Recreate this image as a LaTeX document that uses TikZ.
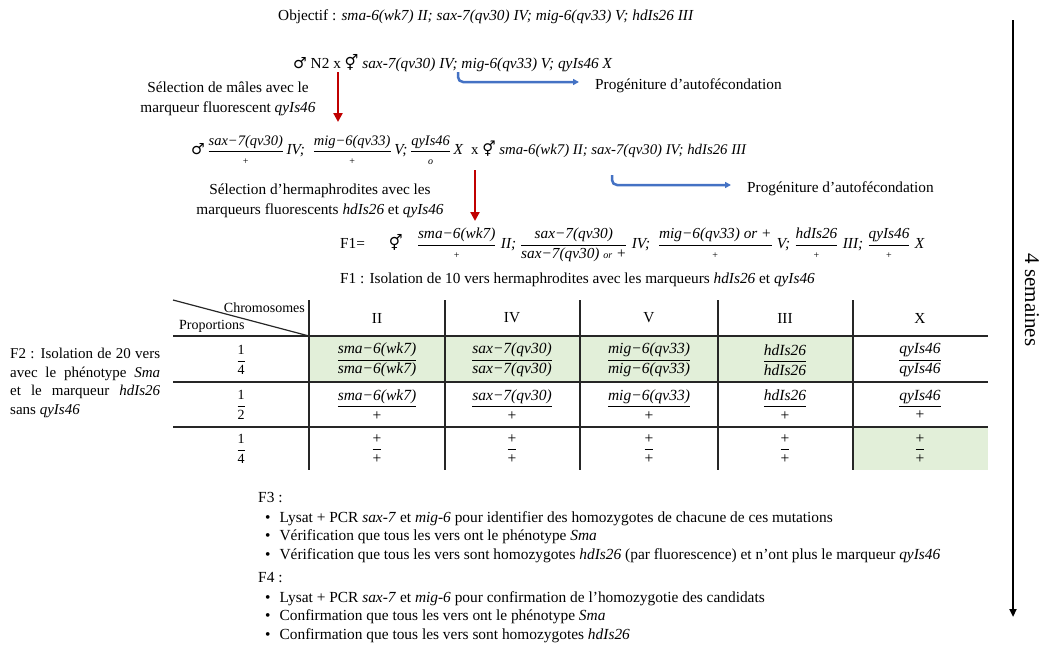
\documentclass[tikz,border=0pt]{standalone}
\usepackage{amsmath}
\usepackage{fontspec}
\setmainfont{Liberation Serif}
\newfontfamily\signes{DejaVu Sans}
\usetikzlibrary{arrows.meta,positioning}

\definecolor{rougefleche}{HTML}{C00000}
\definecolor{bleufleche}{HTML}{4472C4}
\definecolor{vertcase}{HTML}{E2EFD9}

% symboles male / hermaphrodite
\newcommand{\signemale}{{\signes\char"2642}}
\newcommand{\signeherm}{{\signes\char"26A5}}
% genotype ecrit en fraction
\newcommand{\geno}[2]{\ensuremath{\dfrac{\text{#1}}{\text{#2}}}}
\newcommand{\petit}{\fontsize{10}{11}\selectfont}
\newcommand{\moyen}{\fontsize{14.5}{16}\selectfont}
\newcommand{\grand}{\fontsize{15.3}{17}\selectfont}

\begin{document}
\begin{tikzpicture}[x=1pt, y=-1pt,
    every node/.style={font=\fontsize{15.3}{18.5}\selectfont, inner sep=2pt},
    selfleche/.style={draw=rougefleche, line width=2.5pt, -{Triangle[length=9pt,width=9pt]}},
    autofleche/.style={draw=bleufleche, line width=2.5pt, rounded corners=5pt, -{Triangle[length=6pt,width=6pt]}},
    cellule/.style={font=\fontsize{15.5}{17}\selectfont},
    trait/.style={draw=black!85, line width=1.2pt}]
    \useasboundingbox (0,0) rectangle (1046,645);

    % objectif et premier croisement
    \node[anchor=west] (objectif) at (276,17) {Objectif : \textit{sma-6(wk7) II; sax-7(qv30) IV; mig-6(qv33) V; hdIs26 III}};
    \node[anchor=west] (croisA) at (291,63) {\signemale\ N2 x \signeherm\ \textit{sax-7(qv30) IV; mig-6(qv33) V; qyIs46 X}};

    % selection des males
    \node[align=center, font=\fontsize{15.3}{20.5}\selectfont] (selA) at (228,99) {Sélection de mâles avec le\\marqueur fluorescent \textit{qyIs46}};
    \coordinate (rougeA1) at (338,72);
    \coordinate (rougeA2) at (338,122);
    \draw[selfleche] (rougeA1) -- (rougeA2);

    % progeniture (1)
    \coordinate (bleuA) at (458,72);
    \node[anchor=west] (progA) at (593,86) {Progéniture d’autofécondation};
    \draw[autofleche] (bleuA) |- ([xshift=-14pt,yshift=4pt]progA.west);

    % second croisement
    \node[anchor=west] (croisB) at (189,150) {\signemale\,\geno{\moyen\itshape sax−7(qv30)}{\petit +}\,\textit{IV;}\enspace\geno{\moyen\itshape mig−6(qv33)}{\petit +}\,\textit{V;}\,\geno{\moyen\itshape qyIs46}{\petit\itshape o}\,\textit{X}\enspace{\fontsize{14.8}{17}\selectfont x \signeherm\ \textit{sma-6(wk7) II; sax-7(qv30) IV; hdIs26 III}}};

    % selection des hermaphrodites
    \node[align=center, font=\fontsize{15.3}{20.5}\selectfont] (selB) at (320,201) {Sélection d’hermaphrodites avec les\\marqueurs fluorescents \textit{hdIs26} et \textit{qyIs46}};
    \coordinate (rougeB1) at (475,170);
    \coordinate (rougeB2) at (475,221);
    \draw[selfleche] (rougeB1) -- (rougeB2);

    % progeniture (2)
    \coordinate (bleuB) at (612,175);
    \node[anchor=west] (progB) at (745,189) {Progéniture d’autofécondation};
    \draw[autofleche] (bleuB) |- ([xshift=-14pt,yshift=4pt]progB.west);

    % F1
    \node[anchor=west] (fun) at (338,245) {F1=\hspace{24pt}\signeherm\hspace{14pt}\geno{\grand\itshape sma−6(wk7)}{\petit +}\;\textit{II;}\ \geno{\grand\itshape sax−7(qv30)}{\grand\itshape sax−7(qv30) {\petit or} +}\;\textit{IV;}\ \ \geno{\grand\itshape mig−6(qv33) or +}{\petit +}\;\textit{V;}\;\geno{\grand\itshape hdIs26}{\petit +}\;\textit{III;}\;\geno{\grand\itshape qyIs46}{\petit +}\;\textit{X}};
    \node[anchor=west] (funiso) at (338,280) {F1 : Isolation de 10 vers hermaphrodites avec les marqueurs \textit{hdIs26} et \textit{qyIs46}};

    % F2 a gauche du tableau
    \node[anchor=west, text width=150pt, align=justify, font=\fontsize{15}{18.8}\selectfont] (fdeux) at (8,383) {F2 : Isolation de 20 vers\linebreak avec le phénotype \textit{Sma}\linebreak et le marqueur \textit{hdIs26}\linebreak sans \textit{qyIs46}};

    % cases vertes du tableau
    \fill[vertcase] (309,336) rectangle (853,382);
    \fill[vertcase] (853,427) rectangle (988,470);

    % lignes du tableau
    \draw[trait] (173,300) -- (309,336);
    \draw[trait] (173,336) -- (988,336);
    \draw[trait] (173,382) -- (988,382);
    \draw[trait] (173,427) -- (988,427);
    \draw[trait] (309,300) -- (309,470);
    \draw[trait] (445,300) -- (445,470);
    \draw[trait] (580,300) -- (580,470);
    \draw[trait] (718,300) -- (718,470);
    \draw[trait] (853,300) -- (853,470);

    % en-tetes
    \node[anchor=east, font=\fontsize{14}{16}\selectfont] (chromo) at (307,308) {Chromosomes};
    \node[anchor=west, font=\fontsize{14}{16}\selectfont] (propo) at (177,326) {Proportions};
    \node (hII) at (377,318) {II};
    \node (hIV) at (512,318) {IV};
    \node (hV) at (649,318) {V};
    \node (hIII) at (785,318) {III};
    \node (hX) at (920,318) {X};

    % proportions
    \node[font=\fontsize{14}{16}\selectfont] (pun) at (241,360) {\geno{1}{4}};
    \node[font=\fontsize{14}{16}\selectfont] (pdeux) at (241,405) {\geno{1}{2}};
    \node[font=\fontsize{14}{16}\selectfont] (ptrois) at (241,449) {\geno{1}{4}};

    % genotypes homozygotes
    \node[cellule] (aII) at (377,360) {\geno{\itshape sma−6(wk7)}{\itshape sma−6(wk7)}};
    \node[cellule] (aIV) at (512,360) {\geno{\itshape sax−7(qv30)}{\itshape sax−7(qv30)}};
    \node[cellule] (aV) at (649,360) {\geno{\itshape mig−6(qv33)}{\itshape mig−6(qv33)}};
    \node[cellule] (aIII) at (785,360) {\geno{\itshape hdIs26}{\itshape hdIs26}};
    \node[cellule] (aX) at (920,360) {\geno{\itshape qyIs46}{\itshape qyIs46}};

    % genotypes heterozygotes
    \node[cellule] (bII) at (377,405) {\geno{\itshape sma−6(wk7)}{+}};
    \node[cellule] (bIV) at (512,405) {\geno{\itshape sax−7(qv30)}{+}};
    \node[cellule] (bV) at (649,405) {\geno{\itshape mig−6(qv33)}{+}};
    \node[cellule] (bIII) at (785,405) {\geno{\itshape hdIs26}{+}};
    \node[cellule] (bX) at (920,405) {\geno{\itshape qyIs46}{+}};

    % genotypes sauvages
    \node[cellule] (cII) at (377,449) {\geno{+}{+}};
    \node[cellule] (cIV) at (512,449) {\geno{+}{+}};
    \node[cellule] (cV) at (649,449) {\geno{+}{+}};
    \node[cellule] (cIII) at (785,449) {\geno{+}{+}};
    \node[cellule] (cX) at (920,449) {\geno{+}{+}};

    % F3 et F4
    \node[anchor=north west, align=left, font=\fontsize{15.4}{18.5}\selectfont] (ftrois) at (256,490) {F3 :\\[1.5pt]
        \hspace*{7pt}\textbullet\hspace{9pt}Lysat + PCR \textit{sax-7} et \textit{mig-6} pour identifier des homozygotes de chacune de ces mutations\\
        \hspace*{7pt}\textbullet\hspace{9pt}Vérification que tous les vers ont le phénotype \textit{Sma}\\
        \hspace*{7pt}\textbullet\hspace{9pt}Vérification que tous les vers sont homozygotes \textit{hdIs26} (par fluorescence) et n’ont plus le marqueur \textit{qyIs46}};
    \node[anchor=north west, align=left, font=\fontsize{15.4}{18.5}\selectfont] (fquatre) at (256,570) {F4 :\\[1.5pt]
        \hspace*{7pt}\textbullet\hspace{9pt}Lysat + PCR \textit{sax-7} et \textit{mig-6} pour confirmation de l’homozygotie des candidats\\
        \hspace*{7pt}\textbullet\hspace{9pt}Confirmation que tous les vers ont le phénotype \textit{Sma}\\
        \hspace*{7pt}\textbullet\hspace{9pt}Confirmation que tous les vers sont homozygotes \textit{hdIs26}};

    % duree totale
    \coordinate (tempsdebut) at (1013,20);
    \coordinate (tempsfin) at (1013,617);
    \draw[line width=2pt, -{Triangle[length=8pt,width=7pt]}] (tempsdebut) -- (tempsfin);
    \node[rotate=-90, font=\fontsize{21}{24}\selectfont] (semaines) at (1032,300) {4 semaines};
\end{tikzpicture}
\end{document}
